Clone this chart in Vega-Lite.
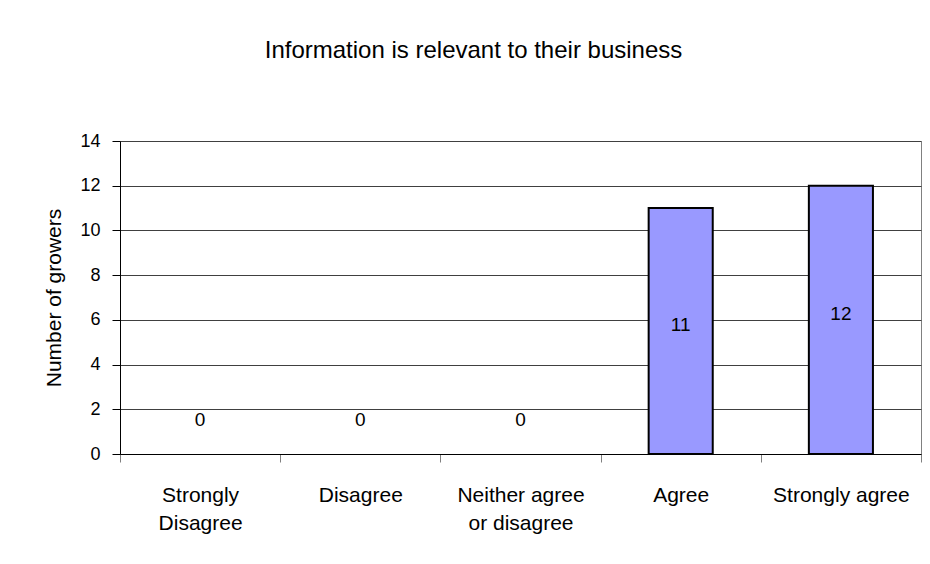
{
  "$schema": "https://vega.github.io/schema/vega-lite/v6.json",
  "width": 801,
  "height": 313,
  "autosize": {"type": "none"},
  "padding": {"left": 120, "top": 141, "right": 9, "bottom": 110},
  "background": "white",
  "title": {
    "text": "Information is relevant to their business",
    "anchor": "middle",
    "frame": "group",
    "dx": -47,
    "offset": 69,
    "font": "Liberation Sans",
    "fontSize": 24,
    "fontWeight": "normal",
    "color": "black"
  },
  "data": {
    "values": [
      {"response": "Strongly Disagree", "growers": 0},
      {"response": "Disagree", "growers": 0},
      {"response": "Neither agree or disagree", "growers": 0},
      {"response": "Agree", "growers": 11},
      {"response": "Strongly agree", "growers": 12}
    ]
  },
  "encoding": {
    "x": {
      "field": "response",
      "type": "nominal",
      "sort": ["Strongly Disagree", "Disagree", "Neither agree or disagree", "Agree", "Strongly agree"],
      "scale": {"paddingInner": 0, "paddingOuter": 0},
      "axis": {
        "title": null,
        "labelAngle": 0,
        "tickBand": "extent",
        "tickSize": 8,
        "tickColor": "#808080",
        "domainColor": "black",
        "labelPadding": 22,
        "labelBaseline": "top",
        "labelLineHeight": 28,
        "labelFont": "Liberation Sans",
        "labelFontSize": 21,
        "labelColor": "black",
        "labelExpr": "datum.label == 'Strongly Disagree' ? ['Strongly', 'Disagree'] : datum.label == 'Neither agree or disagree' ? ['Neither agree', 'or disagree'] : datum.label"
      }
    }
  },
  "layer": [
    {
      "transform": [{"filter": "datum.growers > 0"}],
      "mark": {"type": "bar", "fill": "#9999FF", "stroke": "black", "strokeWidth": 2, "width": {"band": 0.4}},
      "encoding": {
        "y": {
          "field": "growers",
          "type": "quantitative",
          "scale": {"domain": [0, 14], "nice": false},
          "axis": {
            "title": "Number of growers",
            "values": [0, 2, 4, 6, 8, 10, 12, 14],
            "grid": true,
            "gridColor": "#404040",
            "gridWidth": 1,
            "tickSize": 8,
            "tickColor": "black",
            "domainColor": "black",
            "labelPadding": 12,
            "labelFont": "Liberation Sans",
            "labelFontSize": 18,
            "labelColor": "black",
            "titleFont": "Liberation Sans",
            "titleFontSize": 21,
            "titleFontWeight": "normal",
            "titleColor": "black",
            "titlePadding": 15
          }
        }
      }
    },
    {
      "transform": [{"filter": "datum.growers > 0"}],
      "mark": {"type": "text", "font": "Liberation Sans", "fontSize": 19, "color": "black", "baseline": "middle", "dy": -6},
      "encoding": {
        "y": {"field": "growers", "type": "quantitative", "stack": "zero", "bandPosition": 0.5},
        "text": {"field": "growers", "type": "quantitative"}
      }
    },
    {
      "transform": [{"filter": "datum.growers == 0"}],
      "mark": {"type": "text", "font": "Liberation Sans", "fontSize": 19, "color": "black", "baseline": "middle", "dy": -34},
      "encoding": {
        "y": {"field": "growers", "type": "quantitative"},
        "text": {"field": "growers", "type": "quantitative"}
      }
    }
  ],
  "config": {
    "view": {"stroke": "#808080", "strokeWidth": 1}
  }
}
